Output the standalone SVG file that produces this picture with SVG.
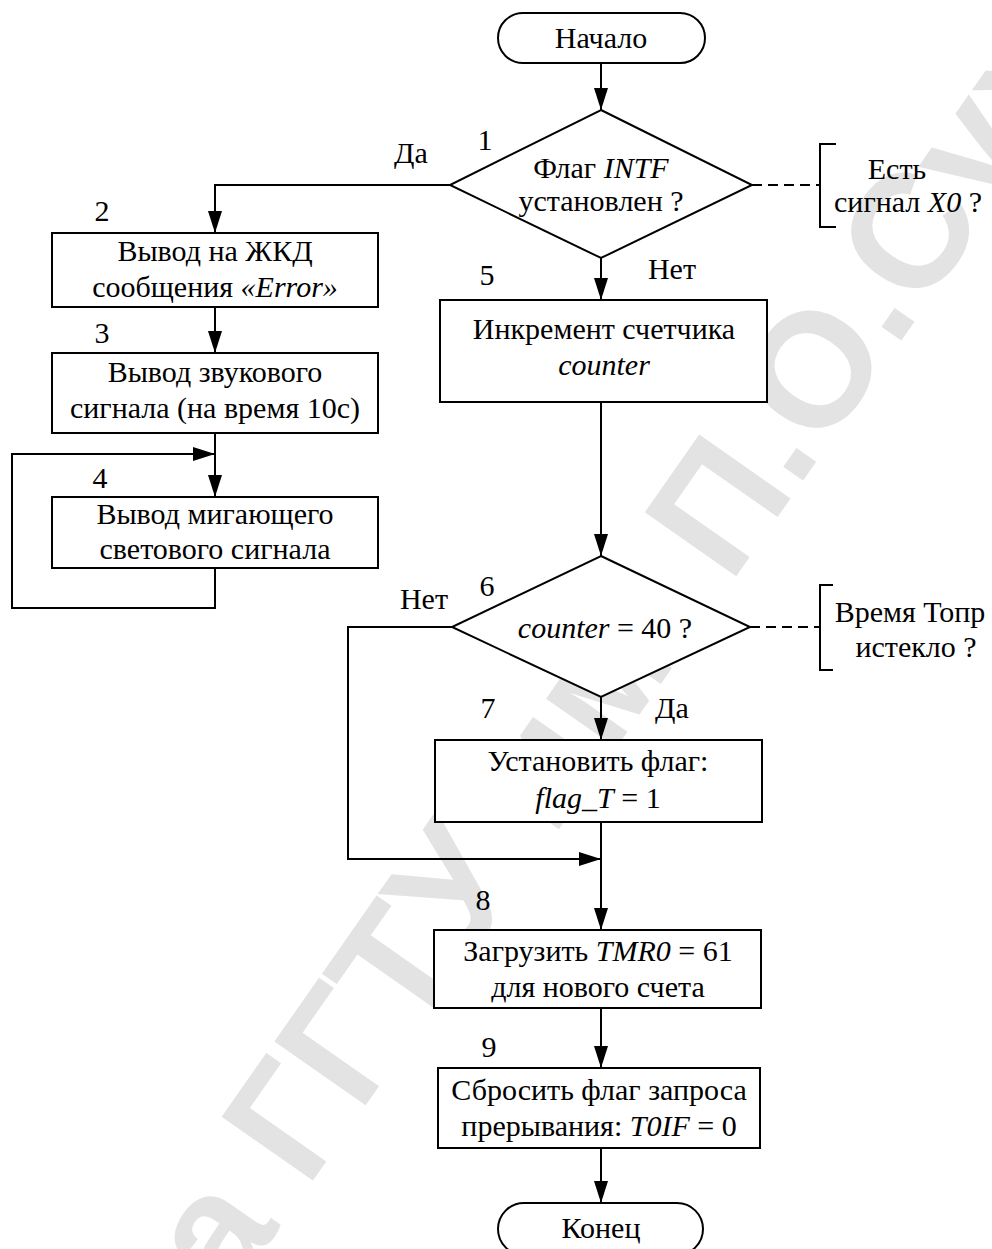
<svg xmlns="http://www.w3.org/2000/svg" width="992" height="1249" viewBox="0 0 992 1249">
  <style>
    .shape { fill: #ffffff; stroke: #000000; stroke-width: 2; }
    .line { fill: none; stroke: #000000; stroke-width: 2; }
    .dash { fill: none; stroke: #000000; stroke-width: 2; stroke-dasharray: 10 6; }
    .arrow { fill: none; stroke: #000000; stroke-width: 2; marker-end: url(#head); }
    text { font-family: "Liberation Serif", "Times New Roman", serif; font-size: 30px; fill: #000000; }
    .c { text-anchor: middle; }
    .i { font-style: italic; }
    .wm { font-family: "Liberation Sans", Arial, sans-serif; font-weight: bold; font-size: 162px; fill: #e3e3e3; }
  </style>
  <defs>
    <marker id="head" markerUnits="userSpaceOnUse" markerWidth="22" markerHeight="14" refX="22" refY="7" orient="auto">
      <path d="M0,0 L22,7 L0,14 z" fill="#000000"/>
    </marker>
  </defs>

  <rect x="0" y="0" width="992" height="1249" fill="#ffffff"/>

  <!-- library watermark running diagonally behind the chart -->
  <g id="watermark" transform="translate(730,585) rotate(-55)">
    <text class="wm" x="-45" y="0" text-anchor="end">Библиотека ГГТУ им.</text>
    <text class="wm" x="0" y="0">П.О.Сухого</text>
  </g>

  <g id="connectors">
    <line class="arrow" x1="601" y1="63" x2="601" y2="110"/>
    <polyline class="arrow" points="450,185 215,185 215,233"/>
    <line class="arrow" x1="215" y1="307" x2="215" y2="353"/>
    <line class="arrow" x1="215" y1="433" x2="215" y2="497"/>
    <polyline class="arrow" points="215,568 215,608 12,608 12,454 215,454"/>
    <line class="arrow" x1="601" y1="258" x2="601" y2="300"/>
    <line class="arrow" x1="601" y1="402" x2="601" y2="556"/>
    <line class="arrow" x1="601" y1="697" x2="601" y2="740"/>
    <polyline class="arrow" points="452,627 348,627 348,859 601,859"/>
    <line class="arrow" x1="601" y1="822" x2="601" y2="930"/>
    <line class="arrow" x1="601" y1="1008" x2="601" y2="1068"/>
    <line class="arrow" x1="601" y1="1148" x2="601" y2="1203"/>
    <line class="dash" x1="752" y1="185" x2="820" y2="185"/>
    <line class="dash" x1="750" y1="627" x2="820" y2="627"/>
  </g>

  <g id="start">
    <rect class="shape" x="498" y="13" width="207" height="50" rx="25" ry="25"/>
    <text class="c" x="601" y="48">Начало</text>
  </g>

  <g id="node1">
    <polygon class="shape" points="601,110 752,185 601,258 450,185"/>
    <text x="485" y="150" class="c">1</text>
    <text class="c" x="601" y="178">Флаг <tspan class="i">INTF</tspan></text>
    <text class="c" x="601" y="211">установлен ?</text>
  </g>

  <g id="label-yes1"><text class="c" x="411" y="163">Да</text></g>
  <g id="label-no1"><text class="c" x="672" y="279">Нет</text></g>

  <g id="note1">
    <polyline class="line" points="836,144 820,144 820,227 836,227"/>
    <text class="c" x="897" y="179">Есть</text>
    <text class="c" x="908" y="212">сигнал <tspan class="i">X0</tspan> ?</text>
  </g>

  <g id="node2">
    <rect class="shape" x="52" y="233" width="326" height="74"/>
    <text class="c" x="102" y="221">2</text>
    <text class="c" x="215" y="261">Вывод на ЖКД</text>
    <text class="c" x="215" y="297">сообщения <tspan class="i">«Error»</tspan></text>
  </g>

  <g id="node3">
    <rect class="shape" x="52" y="353" width="326" height="80"/>
    <text class="c" x="102" y="343">3</text>
    <text class="c" x="215" y="382">Вывод звукового</text>
    <text class="c" x="215" y="418">сигнала (на время 10с)</text>
  </g>

  <g id="node4">
    <rect class="shape" x="52" y="497" width="326" height="71"/>
    <text class="c" x="100" y="488">4</text>
    <text class="c" x="215" y="524">Вывод мигающего</text>
    <text class="c" x="215" y="559">светового сигнала</text>
  </g>

  <g id="node5">
    <rect class="shape" x="440" y="300" width="327" height="102"/>
    <text class="c" x="487" y="285">5</text>
    <text class="c" x="604" y="339">Инкремент счетчика</text>
    <text class="c i" x="604" y="375">counter</text>
  </g>

  <g id="node6">
    <polygon class="shape" points="601,556 750,627 601,697 452,627"/>
    <text class="c" x="487" y="596">6</text>
    <text class="c" x="605" y="638"><tspan class="i">counter</tspan> = 40 ?</text>
  </g>

  <g id="label-no6"><text class="c" x="424" y="609">Нет</text></g>
  <g id="label-yes6"><text class="c" x="672" y="718">Да</text></g>

  <g id="note6">
    <polyline class="line" points="833,585 820,585 820,670 833,670"/>
    <text class="c" x="910" y="622">Время Топр</text>
    <text class="c" x="916" y="657">истекло ?</text>
  </g>

  <g id="node7">
    <rect class="shape" x="435" y="740" width="327" height="82"/>
    <text class="c" x="488" y="718">7</text>
    <text class="c" x="598" y="771">Установить флаг:</text>
    <text class="c" x="598" y="808"><tspan class="i">flag_T</tspan> = 1</text>
  </g>

  <g id="node8">
    <rect class="shape" x="434" y="930" width="327" height="78"/>
    <text class="c" x="483" y="910">8</text>
    <text class="c" x="598" y="961">Загрузить <tspan class="i">TMR0</tspan> = 61</text>
    <text class="c" x="598" y="997">для нового счета</text>
  </g>

  <g id="node9">
    <rect class="shape" x="438" y="1068" width="322" height="80"/>
    <text class="c" x="489" y="1057">9</text>
    <text class="c" x="599" y="1100">Сбросить флаг запроса</text>
    <text class="c" x="599" y="1136">прерывания: <tspan class="i">T0IF</tspan> = 0</text>
  </g>

  <g id="end">
    <rect class="shape" x="498" y="1203" width="205" height="52" rx="26" ry="26"/>
    <text class="c" x="601" y="1238">Конец</text>
  </g>
</svg>
